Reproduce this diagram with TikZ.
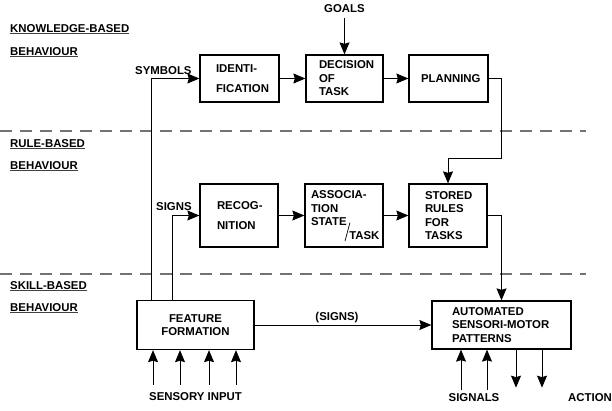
\documentclass[tikz,border=0pt]{standalone}
\usepackage{fontspec}
\setmainfont{Liberation Sans}
\usepackage{graphicx}
\usetikzlibrary{arrows.meta}

\hyphenpenalty=10000
\exhyphenpenalty=10000
\newcommand{\levelname}[1]{\setbox0\hbox{#1}\rlap{\color{black!75}\rule[-2.4pt]{\wd0}{1.1pt}}\box0}

\begin{document}
\begin{tikzpicture}[x=1pt, y=-1pt,
	every node/.style={font=\fontsize{11.4}{13.5}\selectfont\bfseries, inner sep=0pt},
	blk/.style={draw, line width=1.3pt, align=left, inner ysep=0pt},
	link/.style={line width=1pt, -{Stealth[length=12pt, width=10pt, inset=1.5pt]}},
	band/.style={line width=2pt, black!55, dash pattern=on 12pt off 8pt}]
	\useasboundingbox (0,0) rectangle (612,410);

	\draw[band] (0,131) -- (586,131);
	\draw[band] (0,274) -- (586,274);

	\node[anchor=base west] (kb) at (10,32) {\levelname{KNOWLEDGE-BASED}};
	\node[anchor=base west] (kbb) at (10,55) {\levelname{BEHAVIOUR}};
	\node[anchor=base west] (rb) at (10,147) {\levelname{RULE-BASED}};
	\node[anchor=base west] (rbb) at (10,169) {\levelname{BEHAVIOUR}};
	\node[anchor=base west] (sb) at (10,289) {\levelname{SKILL-BASED}};
	\node[anchor=base west] (sbb) at (10,311) {\levelname{BEHAVIOUR}};

	\node[blk, minimum width=79pt, minimum height=47pt, text width=47pt, inner xsep=16pt] (ident) at (239.5,78.5) {IDENTI-\\[6pt]FICATION};
	\node[blk, minimum width=77pt, minimum height=47pt, text width=51pt, inner xsep=13pt] (decision) at (344.5,78.5) {DECISION\\OF\\TASK};
	\node[blk, minimum width=79pt, minimum height=47pt, text width=55pt, inner xsep=12pt] (planning) at (448.5,78.5) {PLANNING};
	\node[blk, minimum width=78pt, minimum height=63pt, text width=44pt, inner xsep=17pt] (recog) at (239,215.5) {RECOG-\\[6.5pt]NITION};
	\node[blk, minimum width=78pt, minimum height=63pt, text width=66pt, inner xsep=6pt] (assoc) at (344,215.5) {ASSOCIA-\\TION\\STATE\kern-2pt\raisebox{-15pt}[0pt][0pt]{\rotatebox{-15}{\rule{0.7pt}{19pt}}}\kern-1pt\raisebox{-14pt}{TASK}};
	\node[blk, minimum width=78pt, minimum height=63pt, text width=46pt, inner xsep=16pt] (stored) at (448,215.5) {STORED\\RULES\\FOR\\TASKS};
	\node[blk, align=center, minimum width=117pt, minimum height=49pt, text width=100pt, inner xsep=8.5pt] (feature) at (195.5,325) {FEATURE\\FORMATION};
	\node[blk, minimum width=139pt, minimum height=48pt, text width=99pt, inner xsep=20pt] (automated) at (501.5,325) {AUTOMATED\\SENSORI-MOTOR\\PATTERNS};

	\node[anchor=base] (goals) at (344.5,12) {GOALS};
	\node[anchor=base west] (symbols) at (135,74) {SYMBOLS};
	\node[anchor=base west] (signs) at (156,210) {SIGNS};
	\node[anchor=base] (sensory) at (195.5,400) {SENSORY INPUT};
	\node[anchor=base] (signals) at (474,401) {SIGNALS};
	\node[anchor=base] (action) at (590,401) {ACTION};

	\draw[link] ([yshift=-6pt]goals.south) -- (decision);
	\draw[link] (ident) -- (decision);
	\draw[link] (decision) -- (planning);
	\draw[link] (recog) -- (assoc);
	\draw[link] (assoc) -- (stored);
	\draw[link] ([xshift=-44.5pt]feature.north) |- (ident);
	\draw[link] ([xshift=-23.5pt]feature.north) |- (recog);
	\draw[link] (planning.east) -| ([xshift=53pt, yshift=25pt]stored.north) -| (stored.north);
	\draw[link] (stored.east) -| (automated.north);
	\draw[link] (feature) -- node[above=1.6pt, pos=0.466] (signslbl) {(SIGNS)} (automated);

	\foreach \dx in {-42.5,-15.5,13.5,40.5}
		\draw[link] ([xshift=\dx pt, yshift=7pt]sensory.north) -- ([xshift=\dx pt]feature.south);
	\foreach \dx/\sx in {-13/-40.5, 13/-14.5}
		\draw[link] ([xshift=\dx pt, yshift=3pt]signals.north) -- ([xshift=\sx pt]automated.south);
	\foreach \sx in {14.5,40.5}
		\draw[link] ([xshift=\sx pt]automated.south) -- ++(0,38);
\end{tikzpicture}
\end{document}
